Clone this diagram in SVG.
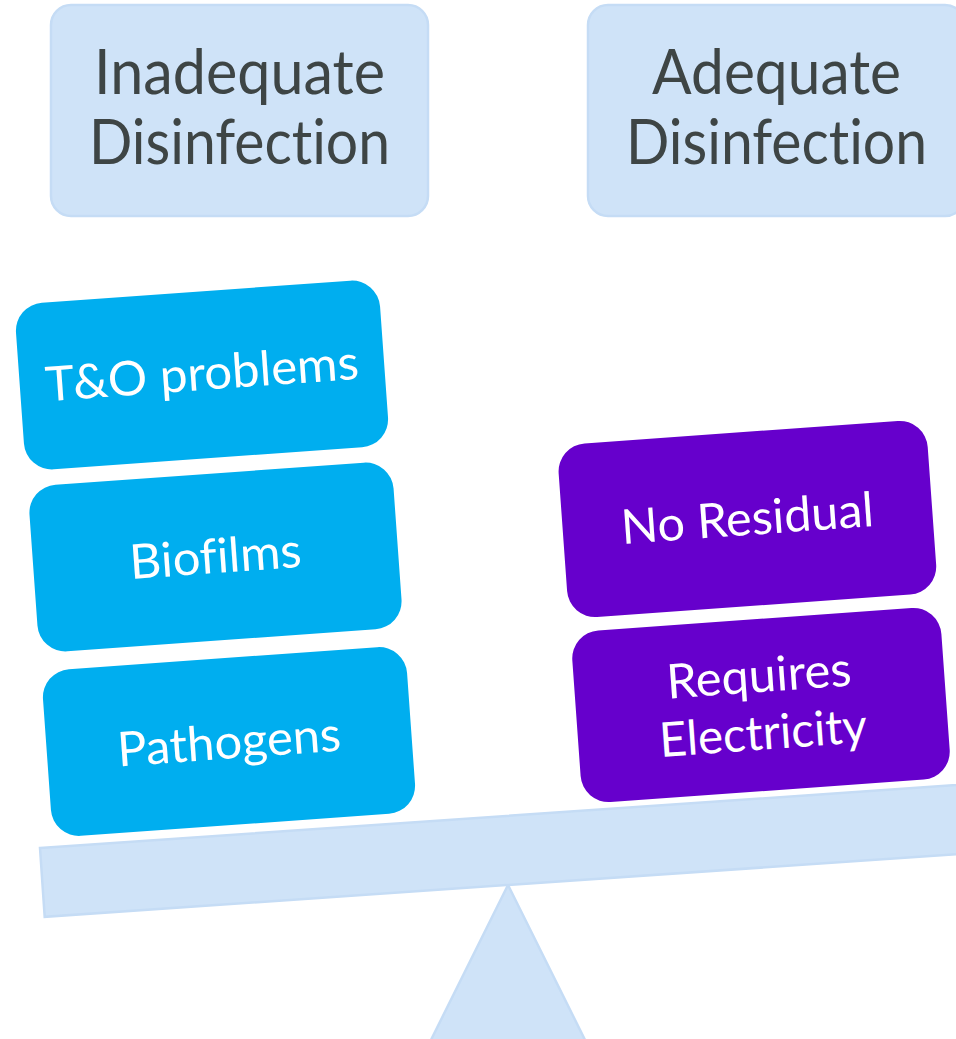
<svg xmlns="http://www.w3.org/2000/svg" width="956" height="1039" viewBox="0 0 956 1039">
  <style>
    text { font-variant-ligatures: none; font-feature-settings: "liga" 0, "clig" 0, "dlig" 0; }
    .hdr { fill: #CFE3F8; stroke: #C5DCF5; stroke-width: 2.5; }
    .hdrtxt { font-family: Lato, "Open Sans", "Liberation Sans", sans-serif; font-size: 61px; fill: #3E4545; text-anchor: middle; }
    .blue { fill: #00AEEF; }
    .purple { fill: #6600CC; }
    .btxt { font-family: Lato, "Open Sans", "Liberation Sans", sans-serif; font-size: 48px; fill: #FFFFFF; text-anchor: middle; }
    .scale { fill: #CFE3F8; stroke: #C5DCF5; stroke-width: 2.5; }
  </style>
  <rect width="956" height="1039" fill="#FFFFFF"/>

  <g id="fulcrum">
    <polygon class="scale" points="508,885 426,1050 590,1050"/>
  </g>
  <g id="beam">
    <polygon class="scale" points="40,848 1008,781.5 1012.5,850.3 44.7,916.8"/>
  </g>

  <g id="header-inadequate">
    <rect class="hdr" x="51" y="5" width="377" height="211" rx="20"/>
    <text class="hdrtxt" x="239.5" y="94" textLength="291" lengthAdjust="spacingAndGlyphs">Inadequate</text>
    <text class="hdrtxt" x="239.5" y="164" textLength="301" lengthAdjust="spacingAndGlyphs">Disinfection</text>
  </g>

  <g id="header-adequate">
    <rect class="hdr" x="588" y="5" width="377" height="211" rx="20"/>
    <text class="hdrtxt" x="776.5" y="94" textLength="249" lengthAdjust="spacingAndGlyphs">Adequate</text>
    <text class="hdrtxt" x="776.5" y="164" textLength="301" lengthAdjust="spacingAndGlyphs">Disinfection</text>
  </g>

  <g id="node-to-problems" transform="translate(202,375) rotate(-4.1)">
    <rect class="blue" x="-182.5" y="-83.5" width="365" height="167" rx="28"/>
    <text class="btxt" x="0" y="15" textLength="314" lengthAdjust="spacingAndGlyphs">T&amp;O problems</text>
  </g>

  <g id="node-biofilms" transform="translate(215.5,557) rotate(-4.1)">
    <rect class="blue" x="-182.5" y="-83.5" width="365" height="167" rx="28"/>
    <text class="btxt" x="0" y="16" textLength="172" lengthAdjust="spacingAndGlyphs">Biofilms</text>
  </g>

  <g id="node-pathogens" transform="translate(229,741.5) rotate(-4.1)">
    <rect class="blue" x="-182.5" y="-83.5" width="365" height="167" rx="28"/>
    <text class="btxt" x="0" y="17" textLength="224" lengthAdjust="spacingAndGlyphs">Pathogens</text>
  </g>

  <g id="node-no-residual" transform="translate(747.4,519) rotate(-4.1)">
    <rect class="purple" x="-185" y="-87" width="370" height="174" rx="28"/>
    <text class="btxt" x="0" y="16" textLength="253" lengthAdjust="spacingAndGlyphs">No Residual</text>
  </g>

  <g id="node-requires-electricity" transform="translate(761,705) rotate(-4.1)">
    <rect class="purple" x="-185" y="-86" width="370" height="172" rx="28"/>
    <text class="btxt" x="0" y="-13" textLength="185" lengthAdjust="spacingAndGlyphs">Requires</text>
    <text class="btxt" x="0" y="44.6" textLength="208" lengthAdjust="spacingAndGlyphs">Electricity</text>
  </g>

  <g id="connectors"/>
</svg>
